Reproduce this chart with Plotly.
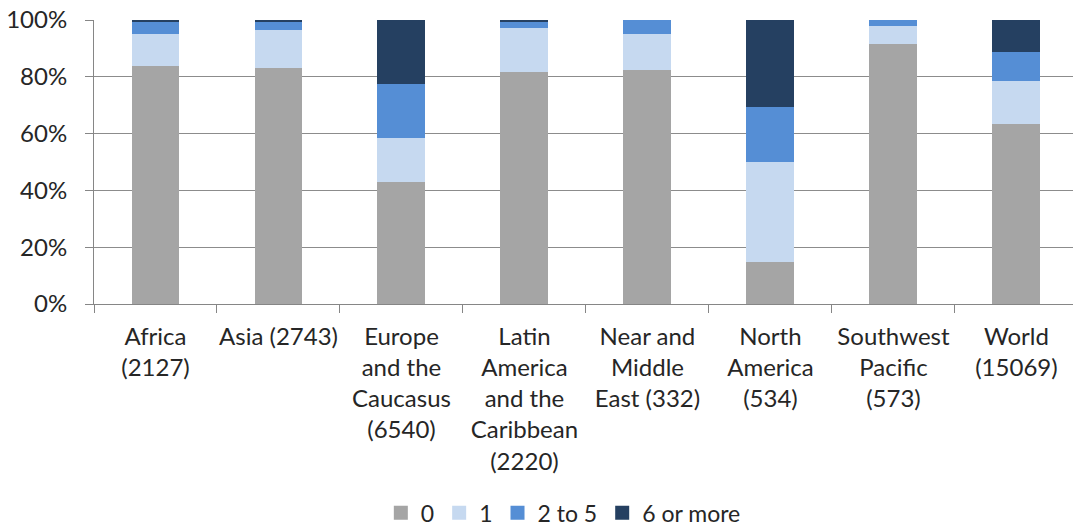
import plotly.graph_objects as go

categories = [
    "Africa<br>(2127)",
    "Asia (2743)",
    "Europe<br>and the<br>Caucasus<br>(6540)",
    "Latin<br>America<br>and the<br>Caribbean<br>(2220)",
    "Near and<br>Middle<br>East (332)",
    "North<br>America<br>(534)",
    "Southwest<br>Pacific<br>(573)",
    "World<br>(15069)",
]

share_0 = [83.7, 83.2, 43.1, 81.6, 82.4, 14.7, 91.4, 63.4]
share_1 = [11.3, 13.2, 15.4, 15.7, 12.7, 35.2, 6.5, 15.1]
share_2_to_5 = [4.4, 3.0, 18.8, 1.9, 4.9, 19.4, 2.1, 10.2]
share_6_plus = [0.6, 0.6, 22.7, 0.8, 0.0, 30.7, 0.0, 11.3]

series = [
    ("0", share_0, "#a5a5a5"),
    ("1", share_1, "#c6d9f0"),
    ("2 to 5", share_2_to_5, "#558ed5"),
    ("6 or more", share_6_plus, "#254061"),
]

font_family = "Lato, 'Open Sans', sans-serif"
text_color = "#262626"

fig = go.Figure()
for name, vals, color in series:
    fig.add_trace(go.Bar(
        x=categories, y=vals, name=name, legendgroup=name,
        marker=dict(color=color, line=dict(width=0)),
        showlegend=False,
    ))
# small square swatches for the legend
for name, vals, color in series:
    fig.add_trace(go.Scatter(
        x=[None], y=[None], mode="markers", name=name, legendgroup=name,
        marker=dict(symbol="square", size=14, color=color),
        showlegend=True,
    ))

fig.update_layout(
    barmode="stack",
    bargap=0.61,
    width=1073, height=526,
    margin=dict(l=94, r=0, t=20, b=222, autoexpand=False),
    paper_bgcolor="white",
    plot_bgcolor="white",
    font=dict(family=font_family, size=24, color=text_color),
    legend=dict(
        orientation="h",
        xref="container", yref="container",
        x=0.525, xanchor="center",
        y=0.025, yanchor="middle",
        font=dict(size=23, color=text_color),
        itemwidth=30,
        traceorder="normal",
        tracegroupgap=0,
    ),
    xaxis=dict(
        range=[-0.5, 7.46],
        showline=True, linecolor="#868686", linewidth=1,
        ticks="outside", ticklen=8, tickcolor="#868686",
        tickson="boundaries",
        showgrid=False,
        tickangle=0,
        automargin=False,
        tickfont=dict(size=24, color=text_color),
        ticklabelstandoff=11,
    ),
    yaxis=dict(
        range=[0, 100],
        tickvals=[0, 20, 40, 60, 80, 100],
        ticktext=["0%", "20%", "40%", "60%", "80%", "100%"],
        showline=True, linecolor="#868686", linewidth=1,
        ticks="outside", ticklen=8, tickcolor="#868686",
        showgrid=True, gridcolor="#8c8c8c", gridwidth=1,
        zeroline=False,
        automargin=False,
        tickfont=dict(size=24, color=text_color),
        ticklabelstandoff=13,
    ),
)

fig.write_html("out.html")
